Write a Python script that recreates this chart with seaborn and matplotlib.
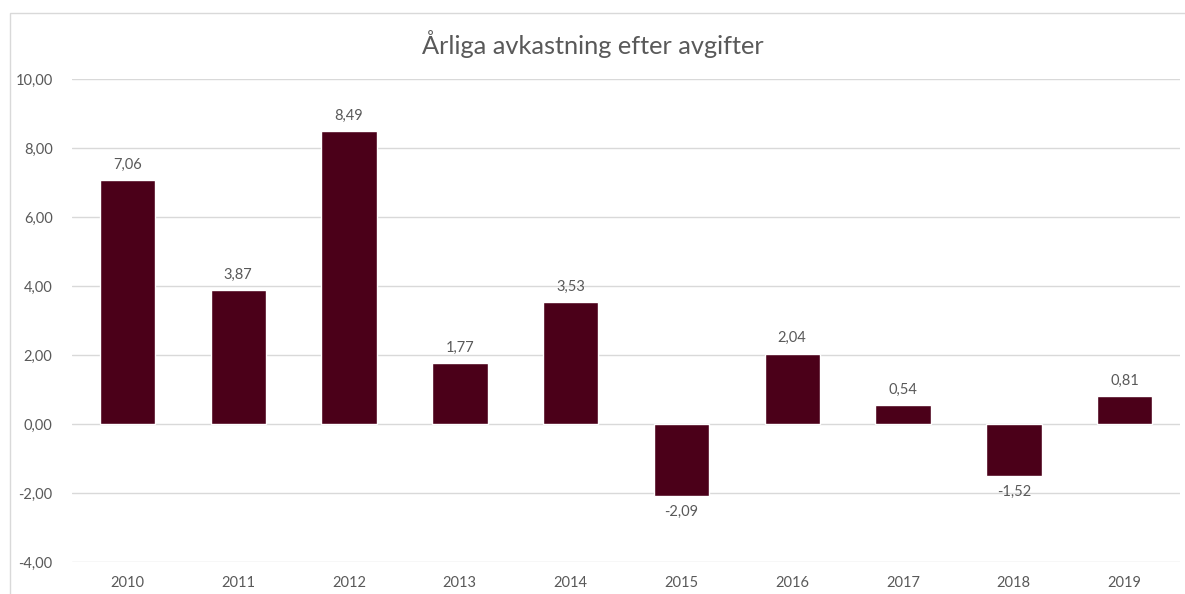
import matplotlib
matplotlib.use("Agg")
import matplotlib.pyplot as plt
import seaborn as sns
from matplotlib.ticker import FuncFormatter, MultipleLocator
from matplotlib.patches import Rectangle

years = ["2010", "2011", "2012", "2013", "2014", "2015", "2016", "2017", "2018", "2019"]
returns = [7.06, 3.87, 8.49, 1.77, 3.53, -2.09, 2.04, 0.54, -1.52, 0.81]

bar_color = "#4b0019"
text_color = "#595959"
grid_color = "#d9d9d9"

sns.set_style("white")
plt.rcParams['font.family'] = ['Lato', 'DejaVu Sans']

fig = plt.figure(figsize=(11.85, 5.94), dpi=100)
ax = fig.add_axes([72 / 1185, 1 - 562 / 594, (1180 - 72) / 1185, (562 - 79) / 594])

sns.barplot(x=years, y=returns, color=bar_color, saturation=1, width=0.5, ax=ax, zorder=3)

ax.set_ylim(-4, 10)
ax.yaxis.set_major_locator(MultipleLocator(2))
ax.yaxis.set_major_formatter(FuncFormatter(lambda v, p: f"{v:.2f}".replace(".", ",")))
ax.grid(axis="y", color=grid_color, linewidth=1, zorder=0)
ax.set_axisbelow(True)
for s in ax.spines.values():
    s.set_visible(False)
ax.tick_params(axis="both", length=0, colors=text_color, labelsize=10.5)
ax.tick_params(axis="x", pad=10)
ax.tick_params(axis="y", pad=14)
ax.set_xlabel("")
ax.set_ylabel("")

# data labels, comma decimals
labels = [f"{v:.2f}".replace(".", ",") for v in returns]
ax.bar_label(ax.containers[0], labels=labels, padding=6, color=text_color, fontsize=10.5)

fig.text(0.5, 1 - 44 / 594, "Årliga avkastning efter avgifter", ha="center", va="center",
         fontsize=18.3, color=text_color)

# light chart-area border (cut off at right/bottom like the screenshot)
fig.patches.append(Rectangle((10 / 1185, -0.1), 1.1, 1 - 13 / 594 + 0.1,
                             transform=fig.transFigure, fill=False,
                             edgecolor=grid_color, linewidth=1))

fig.savefig("out.png", dpi=100)
